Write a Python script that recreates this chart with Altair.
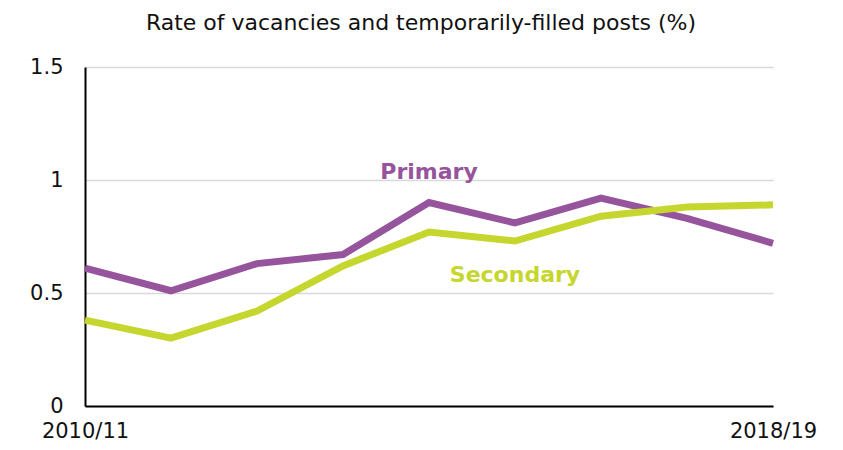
import altair as alt
import pandas as pd

years = ["2010/11", "2011/12", "2012/13", "2013/14", "2014/15",
         "2015/16", "2016/17", "2017/18", "2018/19"]
primary = [0.61, 0.51, 0.63, 0.67, 0.90, 0.81, 0.92, 0.83, 0.72]
secondary = [0.38, 0.30, 0.42, 0.62, 0.77, 0.73, 0.84, 0.88, 0.89]

label_names = ["Primary", "Secondary"]
label_years = ["2014/15", "2015/16"]
label_values = [1.035, 0.58]

colors = ["#96549C", "#C5D62E"]
FONT = "DejaVu Sans"

rows = []
for y, p, s in zip(years, primary, secondary):
    rows.append({"year": y, "series": "Primary", "value": p})
    rows.append({"year": y, "series": "Secondary", "value": s})
df = pd.DataFrame(rows)
lab = pd.DataFrame({"series": label_names, "year": label_years, "value": label_values})

xscale = alt.Scale(type="point", padding=0)
yscale = alt.Scale(domain=[0, 1.5], nice=False, zero=True)

xenc = alt.X("year:N", sort=years, scale=xscale,
             axis=alt.Axis(title=None, labelExpr="(datum.value == '2010/11' || datum.value == '2018/19') ? datum.value : ''",
                           labelAngle=0, ticks=False, domainColor="#000000", domainWidth=2,
                           labelFontSize=21, labelFont=FONT, labelColor="#111111",
                           labelPadding=14, grid=False, labelOverlap=False, labelFlush=False))
yenc = alt.Y("value:Q", scale=yscale,
             axis=alt.Axis(title=None, values=[0, 0.5, 1, 1.5], format=".1~f",
                           ticks=False, domainColor="#000000", domainWidth=2,
                           labelFontSize=21, labelFont=FONT, labelColor="#111111",
                           labelPadding=22, gridColor="#d9d9d9", gridWidth=1.5))
cscale = alt.Scale(domain=label_names, range=colors)

lines = alt.Chart(df).mark_line(strokeWidth=7, strokeJoin="miter").encode(
    x=xenc, y=yenc, color=alt.Color("series:N", scale=cscale, legend=None))

texts = alt.Chart(lab).mark_text(fontSize=22, fontWeight="bold", font=FONT).encode(
    x=alt.X("year:N", sort=years, scale=xscale),
    y=alt.Y("value:Q", scale=yscale),
    color=alt.Color("series:N", scale=cscale, legend=None), text="series:N")

chart = alt.layer(lines, texts).properties(
    width=688, height=339,
    background="white",
    autosize=alt.AutoSizeParams(type="none"),
    padding={"left": 77, "top": 59, "right": 54, "bottom": 36},
    title=alt.TitleParams("Rate of vacancies and temporarily-filled posts (%)",
                          font=FONT, fontSize=22, fontWeight="normal", color="#111111",
                          anchor="middle", offset=21, dx=-8),
).configure_view(stroke=None)

chart.save("out.html", embed_options={"renderer": "svg", "actions": False})
